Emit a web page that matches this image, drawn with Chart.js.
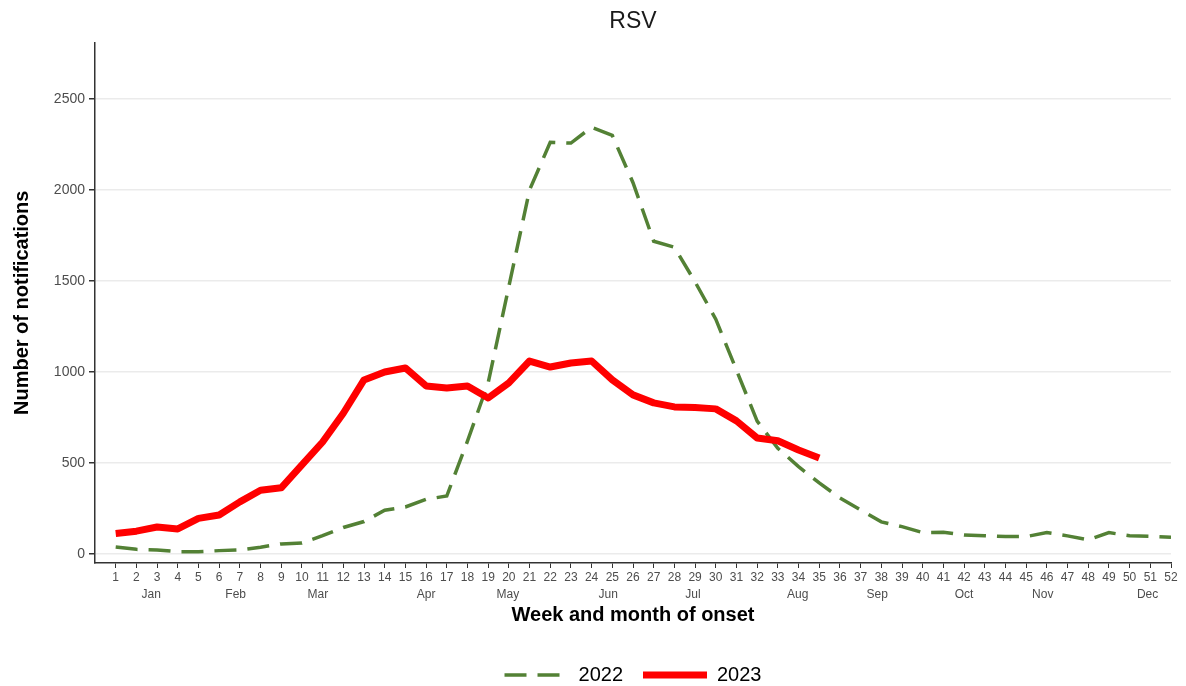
<!DOCTYPE html>
<html>
<head>
<meta charset="utf-8">
<title>RSV</title>
<script src="https://cdn.jsdelivr.net/npm/chart.js@4.4.0/dist/chart.umd.min.js"></script>
<style>
  html, body { margin: 0; padding: 0; background: #fff; }
</style>
</head>
<body>
<canvas id="rsv" width="1186" height="686"></canvas>
<script>
const weeks = [
    1, 2, 3, 4, 5, 6, 7, 8, 9, 10, 11, 12, 13, 14, 15, 16, 17, 18, 19, 20, 21, 22, 23, 24, 25, 26,
    27, 28, 29, 30, 31, 32, 33, 34, 35, 36, 37, 38, 39, 40, 41, 42, 43, 44, 45, 46, 47, 48, 49, 50, 51, 52
];

const notif2022 = [
    38, 25, 22, 12, 12, 18, 22, 37, 55, 60,
    100, 145, 178, 240, 258, 300, 318, 620, 940, 1470,
    2000, 2262, 2258, 2345, 2300, 2040, 1718, 1685, 1495, 1290,
    1010, 730, 580, 480, 390, 308, 242, 176, 150, 117,
    119, 104, 100, 95, 95, 117, 99, 77, 117, 100,
    97, 91
];

const notif2023 = [
    112, 125, 148, 137, 195, 214, 286, 350, 363, 489,
    615, 773, 956, 1000, 1022, 923, 912, 923, 857, 940,
    1060, 1027, 1049, 1060, 956, 874, 830, 808, 804, 797,
    731, 637, 622, 571, 527
];

const yTicks = [0, 500, 1000, 1500, 2000, 2500];

const monthNames = ['Jan', 'Feb', 'Mar', 'Apr', 'May', 'Jun', 'Jul', 'Aug', 'Sep', 'Oct', 'Nov', 'Dec'];
// where each month label sits, in weeks
const monthWeeks = [2.72, 6.8, 10.77, 16.0, 19.95, 24.8, 28.9, 33.96, 37.8, 42.0, 45.8, 50.87];

const FONT = "'Liberation Sans', Arial, sans-serif";
const AXIS_COL = '#333333';
const TICK_COL = '#4d4d4d';

function toPoints(values) {
    return values.map(function (v, i) {
        return { x: weeks[i], y: v };
    });
}

document.addEventListener('DOMContentLoaded', function () {
    var ctx = document.getElementById('rsv').getContext('2d');
    var lineChart = new Chart(ctx, {
        type: 'line',
        data: {
            datasets: [{
                label: '2022',
                data: toPoints(notif2022),
                borderColor: '#538135',
                backgroundColor: '#538135',
                borderWidth: 3.5,
                borderDash: [22, 11],
                pointRadius: 0,
                tension: 0,
                order: 1
            }, {
                label: '2023',
                data: toPoints(notif2023),
                borderColor: '#ff0000',
                backgroundColor: '#ff0000',
                borderWidth: 7,
                borderJoinStyle: 'round',
                pointRadius: 0,
                tension: 0,
                order: 0
            }]
        },
        options: {
            responsive: false,
            animation: false,
            layout: {
                padding: { left: 0, right: 15, top: 0, bottom: -9 }
            },
            scales: {
                x: {
                    type: 'linear',
                    position: 'bottom',
                    min: 0,
                    max: 52,
                    afterBuildTicks: function (scale) {
                        scale.ticks = weeks.map(function (w) { return { value: w }; });
                    },
                    afterFit: function (scale) { scale.height = 22; },
                    ticks: {
                        autoSkip: false,
                        maxRotation: 0,
                        padding: 2,
                        color: TICK_COL,
                        font: { family: FONT, size: 12 },
                        callback: function (value) { return String(value); }
                    },
                    grid: {
                        drawOnChartArea: false,
                        tickLength: 5,
                        tickColor: AXIS_COL,
                        tickWidth: 1
                    },
                    border: { color: AXIS_COL, width: 1.5 }
                },
                xm: {
                    type: 'linear',
                    position: 'bottom',
                    min: 0,
                    max: 52,
                    afterBuildTicks: function (scale) {
                        scale.ticks = monthWeeks.map(function (w) { return { value: w }; });
                    },
                    afterFit: function (scale) { scale.height = 60; },
                    ticks: {
                        autoSkip: false,
                        maxRotation: 0,
                        padding: 2,
                        color: TICK_COL,
                        font: { family: FONT, size: 12 },
                        callback: function (value, index) { return monthNames[index]; }
                    },
                    grid: { display: false, drawTicks: false },
                    border: { display: false },
                    title: {
                        display: true,
                        text: 'Week and month of onset',
                        color: '#000',
                        font: { family: FONT, size: 20, weight: 'bold' },
                        padding: { top: 0, bottom: 18 }
                    }
                },
                y: {
                    min: -50,
                    max: 2810,
                    afterBuildTicks: function (scale) {
                        scale.ticks = yTicks.map(function (v) { return { value: v }; });
                    },
                    afterFit: function (scale) { scale.width = 95; },
                    ticks: {
                        padding: 4,
                        color: TICK_COL,
                        font: { family: FONT, size: 14 },
                        callback: function (value) { return String(value); }
                    },
                    grid: {
                        color: '#ebebeb',
                        lineWidth: 1.5,
                        tickLength: 6,
                        tickColor: AXIS_COL,
                        tickWidth: 1.5
                    },
                    border: { color: AXIS_COL, width: 1.5 },
                    title: {
                        display: true,
                        text: 'Number of notifications',
                        color: '#000',
                        font: { family: FONT, size: 20, weight: 'bold' },
                        padding: { top: 10, bottom: 0 }
                    }
                }
            },
            plugins: {
                title: {
                    display: true,
                    fullSize: false,
                    text: 'RSV',
                    color: '#1a1a1a',
                    font: { family: FONT, size: 23, weight: 'normal' },
                    padding: { top: 8, bottom: 7 }
                },
                legend: {
                    display: true,
                    position: 'bottom',
                    fullSize: false,
                    labels: {
                        usePointStyle: true,
                        pointStyle: 'line',
                        pointStyleWidth: 64,
                        padding: 20,
                        color: '#000',
                        font: { family: FONT, size: 20 },
                        sort: function (a, b) { return a.datasetIndex - b.datasetIndex; },
                        generateLabels: function (chart) {
                            var items = Chart.defaults.plugins.legend.labels.generateLabels(chart);
                            items.forEach(function (item) {
                                var ds = chart.data.datasets[item.datasetIndex];
                                item.lineDash = ds.borderDash || [];
                                item.lineWidth = ds.borderWidth;
                                item.strokeStyle = ds.borderColor;
                            });
                            return items;
                        }
                    }
                },
                tooltip: { enabled: false }
            }
        }
    });
});
</script>
</body>
</html>
